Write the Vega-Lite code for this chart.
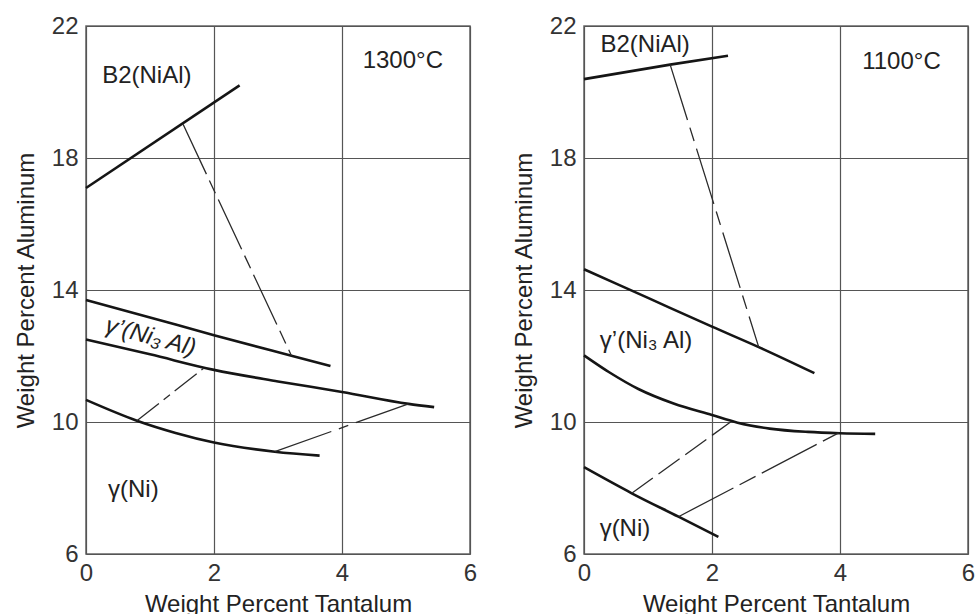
{
  "$schema": "https://vega.github.io/schema/vega-lite/v6.json",
  "background": "white",
  "padding": {"left": 13, "top": 13, "right": 0, "bottom": 0},
  "config": {
    "font": "Liberation Sans",
    "view": {"stroke": "#666", "strokeWidth": 1.5}
  },
  "datasets": {
    "curves": [
      {"panel": "1300", "curve": "B2", "x": 0, "y": 17.09},
      {"panel": "1300", "curve": "B2", "x": 2.4, "y": 20.2},
      {"panel": "1300", "curve": "gpu", "x": 0, "y": 13.70},
      {"panel": "1300", "curve": "gpu", "x": 1, "y": 13.17},
      {"panel": "1300", "curve": "gpu", "x": 2, "y": 12.63},
      {"panel": "1300", "curve": "gpu", "x": 3.21, "y": 12.01},
      {"panel": "1300", "curve": "gpu", "x": 3.82, "y": 11.70},
      {"panel": "1300", "curve": "gpl", "x": 0, "y": 12.50},
      {"panel": "1300", "curve": "gpl", "x": 1, "y": 12.05},
      {"panel": "1300", "curve": "gpl", "x": 2, "y": 11.58},
      {"panel": "1300", "curve": "gpl", "x": 3, "y": 11.23},
      {"panel": "1300", "curve": "gpl", "x": 4, "y": 10.91},
      {"panel": "1300", "curve": "gpl", "x": 5.04, "y": 10.55},
      {"panel": "1300", "curve": "gpl", "x": 5.44, "y": 10.45},
      {"panel": "1300", "curve": "g", "x": 0, "y": 10.67},
      {"panel": "1300", "curve": "g", "x": 0.795, "y": 10.04},
      {"panel": "1300", "curve": "g", "x": 1.4, "y": 9.67},
      {"panel": "1300", "curve": "g", "x": 2, "y": 9.38},
      {"panel": "1300", "curve": "g", "x": 2.95, "y": 9.10},
      {"panel": "1300", "curve": "g", "x": 3.65, "y": 8.98},
      {"panel": "1100", "curve": "B2", "x": 0, "y": 20.39},
      {"panel": "1100", "curve": "B2", "x": 1.346, "y": 20.83},
      {"panel": "1100", "curve": "B2", "x": 2.25, "y": 21.10},
      {"panel": "1100", "curve": "gpu", "x": 0, "y": 14.63},
      {"panel": "1100", "curve": "gpu", "x": 1, "y": 13.76},
      {"panel": "1100", "curve": "gpu", "x": 2, "y": 12.89},
      {"panel": "1100", "curve": "gpu", "x": 2.73, "y": 12.27},
      {"panel": "1100", "curve": "gpu", "x": 3.6, "y": 11.48},
      {"panel": "1100", "curve": "gpl", "x": 0, "y": 12.02},
      {"panel": "1100", "curve": "gpl", "x": 0.4, "y": 11.5},
      {"panel": "1100", "curve": "gpl", "x": 0.85, "y": 11.0},
      {"panel": "1100", "curve": "gpl", "x": 1.4, "y": 10.56},
      {"panel": "1100", "curve": "gpl", "x": 2, "y": 10.21},
      {"panel": "1100", "curve": "gpl", "x": 2.4, "y": 9.98},
      {"panel": "1100", "curve": "gpl", "x": 2.9, "y": 9.80},
      {"panel": "1100", "curve": "gpl", "x": 3.5, "y": 9.70},
      {"panel": "1100", "curve": "gpl", "x": 4, "y": 9.66},
      {"panel": "1100", "curve": "gpl", "x": 4.55, "y": 9.64},
      {"panel": "1100", "curve": "g", "x": 0, "y": 8.63},
      {"panel": "1100", "curve": "g", "x": 0.746, "y": 7.84},
      {"panel": "1100", "curve": "g", "x": 1.476, "y": 7.13},
      {"panel": "1100", "curve": "g", "x": 2.1, "y": 6.52}
    ],
    "ties": [
      {"panel": "1300", "tie": "L1", "x": 1.517, "y": 19.02},
      {"panel": "1300", "tie": "L1", "x": 3.21, "y": 12.01},
      {"panel": "1300", "tie": "L2", "x": 0.795, "y": 10.04},
      {"panel": "1300", "tie": "L2", "x": 1.834, "y": 11.62},
      {"panel": "1300", "tie": "L3", "x": 2.95, "y": 9.10},
      {"panel": "1300", "tie": "L3", "x": 5.04, "y": 10.55},
      {"panel": "1100", "tie": "R1", "x": 1.346, "y": 20.83},
      {"panel": "1100", "tie": "R1", "x": 2.73, "y": 12.27},
      {"panel": "1100", "tie": "R2", "x": 0.746, "y": 7.84},
      {"panel": "1100", "tie": "R2", "x": 2.29, "y": 10.0},
      {"panel": "1100", "tie": "R3", "x": 1.476, "y": 7.13},
      {"panel": "1100", "tie": "R3", "x": 3.98, "y": 9.67}
    ],
    "labels": [
      {"panel": "1300", "kind": "plain", "text": "B2(NiAl)", "x": 0.95, "y": 20.48},
      {"panel": "1300", "kind": "plain", "text": "1300°C", "x": 4.95, "y": 20.95},
      {"panel": "1300", "kind": "tilted", "text": "γ’(Ni₃ Al)", "x": 1.01, "y": 12.57},
      {"panel": "1300", "kind": "plain", "text": "γ(Ni)", "x": 0.74, "y": 7.93},
      {"panel": "1100", "kind": "plain", "text": "B2(NiAl)", "x": 0.955, "y": 21.43},
      {"panel": "1100", "kind": "plain", "text": "1100°C", "x": 4.96, "y": 20.92},
      {"panel": "1100", "kind": "plain", "text": "γ’(Ni₃ Al)", "x": 0.97, "y": 12.45},
      {"panel": "1100", "kind": "plain", "text": "γ(Ni)", "x": 0.64, "y": 6.75}
    ]
  },
  "bounds": "flush",
  "spacing": 114,
  "hconcat": [
    {
      "width": 384,
      "height": 528,
      "layer": [
        {
          "data": {"name": "curves"},
          "transform": [{"filter": "datum.panel === '1300'"}],
          "mark": {"type": "line", "color": "#151515", "strokeWidth": 2.6, "interpolate": "monotone"},
          "encoding": {
            "x": {"field": "x", "type": "quantitative", "scale": {"domain": [0, 6], "nice": false, "zero": false},
              "axis": {"values": [0, 2, 4, 6], "format": "d", "grid": true, "gridColor": "#555", "gridWidth": 1.2, "domain": false, "ticks": false, "labelFontSize": 24, "labelColor": "#333", "labelPadding": 7, "labelFlush": false, "labelOverlap": false, "title": "Weight Percent Tantalum", "titleFontSize": 24, "titleFontWeight": "normal", "titleColor": "#222", "titlePadding": 7}},
            "y": {"field": "y", "type": "quantitative", "scale": {"domain": [6, 22], "nice": false, "zero": false},
              "axis": {"values": [6, 10, 14, 18, 22], "format": "d", "grid": true, "gridColor": "#555", "gridWidth": 1.2, "domain": false, "ticks": false, "labelFontSize": 24, "labelColor": "#333", "labelPadding": 8, "labelFlush": false, "labelOverlap": false, "title": "Weight Percent Aluminum", "titleFontSize": 24, "titleFontWeight": "normal", "titleColor": "#222", "titlePadding": 13}},
            "detail": {"field": "curve"}
          }
        },
        {
          "data": {"name": "ties"},
          "transform": [{"filter": "datum.panel === '1300'"}],
          "mark": {"type": "line", "color": "#2a2a2a", "strokeWidth": 1.3},
          "encoding": {
            "x": {"field": "x", "type": "quantitative"},
            "y": {"field": "y", "type": "quantitative"},
            "detail": {"field": "tie"},
            "strokeDash": {"field": "tie", "type": "nominal", "legend": null,
              "scale": {"domain": ["L1", "L2", "L3", "R1", "R2", "R3"], "range": [[55, 7, 14, 7], [28, 6, 8, 6], [60, 8, 10, 8], [58, 8, 14, 8], [26, 7], [62, 7, 18, 7]]}}
          }
        },
        {
          "data": {"name": "labels"},
          "transform": [{"filter": "datum.panel === '1300' && datum.kind === 'plain'"}],
          "mark": {"type": "text", "fontSize": 24, "color": "#222", "align": "center", "baseline": "middle"},
          "encoding": {
            "x": {"field": "x", "type": "quantitative"},
            "y": {"field": "y", "type": "quantitative"},
            "text": {"field": "text"}
          }
        },
        {
          "data": {"name": "labels"},
          "transform": [{"filter": "datum.panel === '1300' && datum.kind === 'tilted'"}],
          "mark": {"type": "text", "fontSize": 24, "color": "#222", "align": "center", "baseline": "middle", "angle": 15, "fontStyle": "italic"},
          "encoding": {
            "x": {"field": "x", "type": "quantitative"},
            "y": {"field": "y", "type": "quantitative"},
            "text": {"field": "text"}
          }
        }
      ]
    },
    {
      "width": 384,
      "height": 528,
      "layer": [
        {
          "data": {"name": "curves"},
          "transform": [{"filter": "datum.panel === '1100'"}],
          "mark": {"type": "line", "color": "#151515", "strokeWidth": 2.6, "interpolate": "monotone"},
          "encoding": {
            "x": {"field": "x", "type": "quantitative", "scale": {"domain": [0, 6], "nice": false, "zero": false},
              "axis": {"values": [0, 2, 4, 6], "format": "d", "grid": true, "gridColor": "#555", "gridWidth": 1.2, "domain": false, "ticks": false, "labelFontSize": 24, "labelColor": "#333", "labelPadding": 7, "labelFlush": false, "labelOverlap": false, "title": "Weight Percent Tantalum", "titleFontSize": 24, "titleFontWeight": "normal", "titleColor": "#222", "titlePadding": 7}},
            "y": {"field": "y", "type": "quantitative", "scale": {"domain": [6, 22], "nice": false, "zero": false},
              "axis": {"values": [6, 10, 14, 18, 22], "format": "d", "grid": true, "gridColor": "#555", "gridWidth": 1.2, "domain": false, "ticks": false, "labelFontSize": 24, "labelColor": "#333", "labelPadding": 8, "labelFlush": false, "labelOverlap": false, "title": "Weight Percent Aluminum", "titleFontSize": 24, "titleFontWeight": "normal", "titleColor": "#222", "titlePadding": 13}},
            "detail": {"field": "curve"}
          }
        },
        {
          "data": {"name": "ties"},
          "transform": [{"filter": "datum.panel === '1100'"}],
          "mark": {"type": "line", "color": "#2a2a2a", "strokeWidth": 1.3},
          "encoding": {
            "x": {"field": "x", "type": "quantitative"},
            "y": {"field": "y", "type": "quantitative"},
            "detail": {"field": "tie"},
            "strokeDash": {"field": "tie", "type": "nominal", "legend": null,
              "scale": {"domain": ["L1", "L2", "L3", "R1", "R2", "R3"], "range": [[55, 7, 14, 7], [28, 6, 8, 6], [60, 8, 10, 8], [58, 8, 14, 8], [26, 7], [62, 7, 18, 7]]}}
          }
        },
        {
          "data": {"name": "labels"},
          "transform": [{"filter": "datum.panel === '1100'"}],
          "mark": {"type": "text", "fontSize": 24, "color": "#222", "align": "center", "baseline": "middle"},
          "encoding": {
            "x": {"field": "x", "type": "quantitative"},
            "y": {"field": "y", "type": "quantitative"},
            "text": {"field": "text"}
          }
        }
      ]
    }
  ]
}
